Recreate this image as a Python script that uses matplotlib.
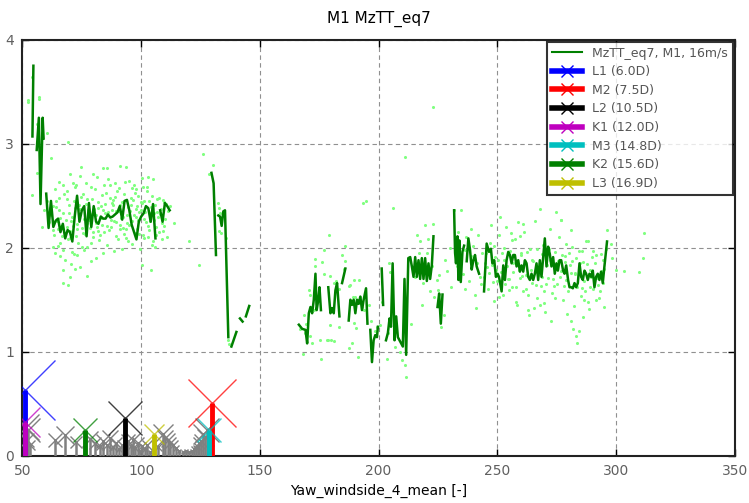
import numpy as np
import matplotlib
matplotlib.use('Agg')
import matplotlib.pyplot as plt
from matplotlib.lines import Line2D

nan = np.nan

# ---------------- binned mean line (NaN = gap) ----------------
line_x = [
    54.2, 54.6, nan,
    56.0, 56.9, 57.6, 58.5, 58.9, nan,
    60, 61, 62, 63, 64, 65, 66, 67, 68, 69, 70, 71, 72, 73, 74, 75, 76, 77, 78, 79,
    80, 81, 82, 83, 84, 85, 86, 87, 88, 89, 90, 91, 92, 93, 94, 95, 96, 97, 98, 99,
    100, 101, 102, 103, 104, 105, 106, nan,
    108, 109, 110, 111, 112, nan,
    129.6, 130.5, 131.5, nan,
    132.5, 133.2, 133.9, 134.6, 135.3, 136.7, nan,
    138.0, 140.1, nan,
    141.6, 142.7, nan,
    144.1, 145.5, nan,
    166.4, 167.8, 169.2, 169.9, 170.6, 171.3, 172.0, 172.7, 173.4, 173.9, 174.6, 175.1, 175.7, nan,
    178.8, 179.7, 180.4, 181.1, 181.8, 182.5, 183.5, nan,
    184.6, 186.0, nan,
    187.4, 188.1, 188.8, 189.5, 190.2, 190.9, 191.6, 192.3, 193.0, 193.7, 194.7, 195.3, nan,
    196.5, 197.2, 197.9, 198.6, 199.3, 199.7, nan,
    201.3, 201.9, nan,
    203.1, 203.9, 204.6, 205.2, 205.9, 206.7, 207.4, 208.1, 208.8, 209.5, 210.2, 210.9, 211.6,
    212.5, 213.3, 214.0, 214.7, 215.4, 216.1, 216.8, 217.5, 218.2, 218.9, 219.6, 220.3, 221.0,
    221.7, 222.4, 223.1, nan,
    224.8, 225.5, 226.2, 226.9, nan,
    231.8, 232.2, 232.6, 233.2, 233.6, 234.0, 234.6, 235.3, 236.0, nan,
    237.1, 237.8, 238.5, 239.2, 239.9, 240.6, 241.3, 242.3, nan,
    244.4, 245.5, 246.5, 247.3, 247.9, 248.7, 249.4, 250.1, 250.7, 251.8, 252.5, 253.2, 253.9,
    254.6, 255.3, 256.0, 256.7, 257.4, 258.1, 258.8, 259.5, 260.2, 260.9, 261.6, 262.3, 263.0,
    263.7, 264.4, 265.1, 265.8, 266.5, 267.2, 267.9, 268.6, 269.3, 270.0, 270.7, 271.4, 272.1,
    272.8, 273.5, 274.2, 274.9, 275.5, 276.2, 276.9, 277.7, 278.3, 279.0, 279.8, 280.4, 281.1,
    281.8, 282.5, 283.2, 283.9, 284.6, 285.3, 286.0, 286.7, 287.4, 288.1, 288.8, 289.5, 290.2,
    290.9, 291.6, 292.3, 293.0, 293.7, 294.4, 295.1, 296.2,
]
line_y = [
    3.07, 3.75, nan,
    2.94, 3.25, 2.42, 3.25, 3.05, nan,
    2.52, 2.19, 2.45, 2.20, 2.26, 2.28, 2.15, 2.23, 2.09, 2.17, 2.15, 2.06, 2.30, 2.50, 2.25, 2.36, 2.40, 2.11, 2.43, 2.20,
    2.40, 2.25, 2.23, 2.30, 2.28, 2.28, 2.32, 2.29, 2.30, 2.32, 2.34, 2.40, 2.27, 2.45, 2.46, 2.36, 2.22, 2.15, 2.08, 2.25,
    2.30, 2.33, 2.40, 2.38, 2.25, 2.42, 2.09, nan,
    2.36, 2.25, 2.43, 2.40, 2.36, nan,
    2.72, 2.62, 1.93, nan,
    2.31, 2.30, 2.21, 2.35, 2.36, 1.14, nan,
    1.05, 1.19, nan,
    1.32, 1.29, nan,
    1.34, 1.44, nan,
    1.26, 1.22, 1.21, 1.08, 1.37, 1.43, 1.37, 1.50, 1.75, 1.40, 1.50, 1.62, 1.40, nan,
    1.62, 1.37, 1.42, 1.37, 1.59, 1.66, 1.34, nan,
    1.66, 1.80, nan,
    1.30, 1.50, 1.45, 1.50, 1.37, 1.50, 1.46, 1.53, 1.40, 1.50, 1.61, 1.27, nan,
    1.21, 0.90, 1.11, 1.16, 1.14, 1.24, nan,
    1.80, 1.45, nan,
    1.11, 1.18, 1.32, 1.24, 1.85, 1.11, 1.34, 1.14, 1.11, 1.08, 1.05, 1.70, 0.97,
    1.90, 1.91, 1.82, 1.72, 1.91, 1.72, 1.88, 1.70, 1.90, 1.70, 1.90, 1.68, 1.85,
    1.70, 1.83, 2.11, nan,
    1.43, 1.56, 1.27, 1.55, nan,
    2.36, 1.95, 1.85, 2.11, 1.69, 2.07, 1.67, 1.96, 2.02, nan,
    1.87, 2.09, 1.98, 1.79, 1.88, 1.93, 1.82, 1.75, nan,
    1.58, 2.04, 1.96, 1.99, 1.85, 1.88, 1.72, 1.75, 1.72, 1.58, 1.83, 1.69, 1.88,
    1.96, 1.93, 1.85, 1.93, 1.93, 1.82, 1.88, 1.77, 1.83, 1.77, 1.88, 1.85, 1.72,
    1.69, 1.75, 1.69, 1.75, 1.85, 1.69, 1.88, 1.72, 1.91, 2.09, 1.82, 2.01, 1.94,
    1.82, 1.91, 1.75, 1.85, 1.78, 1.88, 1.88, 1.78, 1.75, 1.83, 1.69, 1.62, 1.62,
    1.61, 1.66, 1.62, 1.66, 1.85, 1.72, 1.69, 1.78, 1.75, 1.69, 1.75, 1.72, 1.78,
    1.62, 1.72, 1.75, 1.69, 1.77, 1.66, 1.82, 2.06,
]

# ---------------- raw samples (scatter) ----------------
scat1_x = [
    62.1, 63.4, 64.0, 64.8, 65.5, 66.2, 66.9, 67.5, 68.3, 69.0,
    69.6, 70.2, 70.9, 71.5, 72.3, 72.8, 73.4, 74.1, 74.7, 75.3,
    75.9, 76.6, 77.2, 77.8, 78.5, 79.1, 79.8, 80.4, 81.0, 81.7,
    82.3, 82.9, 83.6, 84.2, 84.8, 85.5, 86.1, 86.7, 87.4, 88.0,
    88.6, 89.3, 89.9, 90.5, 91.2, 91.8, 92.4, 93.1, 93.7, 94.3,
    95.0, 95.6, 96.2, 96.9, 97.5, 98.1, 98.8, 99.4, 100.0, 100.7,
    101.3, 101.9, 102.6, 103.2, 103.8, 104.5, 105.1, 105.7, 106.4, 107.0,
    107.6, 108.3, 108.9, 109.5, 110.2, 110.8, 111.5, 112.1, 61.0, 60.2,
    63.0, 65.1, 67.2, 68.8, 70.5, 72.0, 73.9, 75.0, 76.8, 78.2,
    79.5, 80.9, 82.0, 83.3, 85.0, 86.4, 87.9, 89.0, 90.2, 91.5,
    92.9, 94.0, 95.3, 96.6, 97.9, 99.1, 100.3, 101.6, 102.9, 104.0,
    105.4, 106.8, 108.0, 109.2, 110.5, 64.4, 66.6, 71.2, 74.4, 77.5,
    81.3, 84.6, 87.1, 90.9, 93.4, 96.0, 98.5, 101.0, 103.5, 106.1,
    60.4, 62.2, 54.1, 56.2, 69.2, 74.8, 79.7, 81.6, 83.9, 85.6,
    90.9, 93.7, 69.9, 74.1, 67.1, 102.8, 104.9, 100.2, 109.1, 114.0,
    66.9, 67.1, 69.2, 69.9, 70.6, 72.0, 74.1, 77.0, 79.0, 81.1,
    63.6, 62.9, 65.8, 68.0, 71.0, 73.0, 76.0, 84.0, 88.5, 92.0,
    104.2, 100.5, 108.7, 106.0, 97.0, 94.8, 86.0, 78.8, 59.0, 58.3,
    52.4, 52.2, 54.1, 57.0, 57.1, 56.2, 65.5, 72.6, 88.8, 98.0,
    62.7, 64.3, 65.9, 67.8, 69.4, 71.8, 73.1, 75.6, 77.0, 78.9,
    80.1, 81.9, 83.0, 84.4, 85.8, 87.6, 89.6, 90.7, 92.2, 93.9,
    95.5, 97.2, 98.3, 99.8, 101.1, 102.3, 103.9, 105.6, 107.3, 109.8,
    66.0, 68.6, 70.0, 71.3, 74.9, 76.3, 79.3, 82.6, 86.9, 91.0,
    94.6, 97.7, 100.9, 104.7, 106.6, 63.8, 72.4, 77.3, 88.2, 96.3,
    61.5, 65.3, 68.9, 73.6, 78.0, 83.8, 89.4, 92.6, 99.0, 103.0,
]
scat1_y = [
    2.31, 2.12, 2.45, 2.02, 2.36, 2.21, 1.98, 2.52, 2.27, 2.08,
    2.41, 2.16, 2.30, 1.94, 2.58, 2.23, 2.05, 2.37, 2.49, 2.14,
    2.28, 2.62, 2.01, 2.33, 2.19, 2.47, 2.10, 2.56, 2.24, 2.38,
    2.07, 2.29, 2.51, 2.15, 2.42, 2.03, 2.34, 2.60, 2.20, 2.46,
    2.26, 2.11, 2.55, 2.35, 2.18, 2.44, 2.30, 2.63, 2.09, 2.39,
    2.22, 2.48, 2.04, 2.31, 2.14, 2.40, 2.27, 1.99, 2.36, 2.12,
    2.45, 2.25, 2.58, 2.17, 2.33, 2.50, 2.06, 2.41, 2.20, 2.30,
    2.15, 2.37, 2.24, 2.44, 2.28, 2.10, 2.35, 2.40, 2.25, 2.45,
    2.40, 2.18, 2.33, 2.47, 2.26, 2.38, 2.29, 2.19, 2.42, 2.27,
    2.15, 2.31, 2.44, 2.22, 2.53, 2.17, 2.36, 2.49, 2.08, 2.29,
    2.52, 2.24, 2.35, 2.46, 2.30, 2.13, 2.43, 2.34, 2.21, 2.39,
    2.27, 2.47, 2.32, 2.16, 2.42, 2.26, 2.11, 2.21, 2.32, 2.36,
    2.20, 2.33, 2.27, 2.41, 2.18, 2.26, 2.50, 2.28, 2.45, 2.12,
    3.10, 2.86, 2.51, 2.72, 3.02, 2.78, 2.71, 2.68, 2.77, 2.77,
    2.79, 2.78, 2.71, 2.69, 2.60, 2.68, 2.66, 2.67, 2.46, 2.24,
    1.79, 1.66, 1.64, 1.72, 1.84, 1.80, 1.81, 1.73, 1.87, 1.90,
    1.95, 2.01, 1.92, 1.88, 1.96, 1.93, 1.98, 1.95, 1.97, 1.99,
    1.79, 1.83, 2.08, 2.01, 2.60, 2.64, 2.66, 2.58, 2.36, 2.20,
    3.42, 3.40, 3.64, 3.45, 3.43, 3.19, 2.63, 2.60, 2.62, 2.56,
    2.17, 2.39, 2.29, 2.14, 2.33, 2.45, 2.18, 2.52, 2.24, 2.05,
    2.37, 2.16, 2.40, 2.60, 2.21, 2.43, 2.35, 2.57, 2.19, 2.31,
    2.41, 2.53, 2.18, 2.44, 2.09, 2.55, 2.26, 2.33, 2.48, 2.21,
    2.05, 2.55, 2.09, 2.62, 2.01, 2.13, 2.32, 2.12, 2.48, 2.22,
    2.06, 2.37, 2.58, 2.03, 2.34, 2.56, 2.11, 2.47, 2.41, 2.57,
    2.38, 2.48, 2.20, 2.41, 2.30, 2.36, 2.25, 2.13, 2.34, 2.10,
]
scat2_x = [126.2, 130.4, 128.4, 120.0, 124.5, 132.5, 132.8, 133.3, 132.6, 133.6, 135.7, 136.7, 136.9]
scat2_y = [2.90, 2.80, 2.71, 2.06, 1.83, 2.43, 2.38, 2.33, 2.16, 2.14, 2.09, 1.11, 1.07]
scat3_x = [
    179.2, 176.9, 186.0, 184.6, 173.4, 173.4, 176.2, 177.2, 179.7, 181.1,
    182.0, 183.5, 186.0, 187.4, 188.0, 189.8, 191.6, 192.3, 168.5, 169.2,
    171.3, 172.0, 168.1, 175.8, 178.3, 179.8, 181.1, 187.4, 188.8, 191.3,
    189.5, 190.5, 193.4, 194.7, 193.0, 194.0, 189.0, 190.2, 191.5, 170.6,
    171.0, 169.5, 175.5, 178.8, 179.7, 183.2, 199.3, 200.7, 204.2, 204.9,
    203.9, 203.5, 207.0, 209.1, 209.8, 211.2, 211.5, 213.7, 215.4, 216.1,
    216.8, 206.0, 211.2, 197.0, 198.5, 201.5, 185.5, 172.8, 167.0, 196.0,
]
scat3_y = [
    2.12, 1.98, 2.02, 1.93, 1.89, 1.82, 1.86, 1.75, 1.73, 1.66,
    1.68, 1.60, 1.87, 1.63, 1.64, 1.69, 1.69, 1.53, 1.35, 1.18,
    1.15, 1.08, 0.98, 0.93, 1.11, 1.11, 1.10, 1.04, 1.08, 0.95,
    1.28, 1.23, 2.43, 2.45, 1.43, 1.40, 1.53, 1.53, 1.50, 1.59,
    1.55, 1.27, 1.11, 1.11, 1.26, 1.24, 1.24, 1.26, 1.85, 1.77,
    1.18, 0.93, 1.05, 1.00, 0.92, 0.87, 0.76, 1.27, 1.72, 2.12,
    1.95, 2.38, 2.87, 1.30, 1.20, 1.48, 1.80, 1.40, 1.22, 1.45,
]
scat4_x = [
    217.5, 218.2, 218.9, 219.6, 220.3, 221.0, 221.7, 222.4, 223.1, 223.5,
    224.5, 225.2, 225.5, 226.2, 226.3, 227.5, 229.0, 230.5, 231.8, 232.5,
    233.4, 234.7, 235.6, 236.3, 237.0, 238.2, 239.0, 239.8, 240.5, 241.3,
    242.0, 242.8, 243.5, 228.0, 230.0, 236.5, 238.7, 241.0, 243.0, 233.0,
    222.7,
]
scat4_y = [
    2.06, 1.45, 1.66, 2.22, 1.95, 2.08, 1.58, 1.82, 2.23, 1.53,
    1.69, 1.59, 1.74, 1.24, 1.45, 1.35, 1.78, 1.62, 2.36, 1.90,
    2.15, 2.36, 1.75, 1.98, 2.10, 1.68, 1.92, 2.02, 1.55, 1.85,
    2.12, 1.72, 1.95, 1.88, 2.00, 1.60, 2.18, 1.42, 1.65, 1.82,
    3.35,
]
scat5_x = [
    244.5, 245.3, 246.1, 246.8, 247.6, 248.4, 249.1, 249.9, 250.7, 251.4,
    252.2, 253.0, 253.7, 254.5, 255.3, 256.0, 256.8, 257.6, 258.3, 259.1,
    259.9, 260.6, 261.4, 262.2, 262.9, 263.7, 264.5, 265.2, 266.0, 266.8,
    267.5, 268.3, 269.1, 269.8, 270.6, 271.4, 272.1, 272.9, 273.7, 274.4,
    275.2, 276.0, 276.7, 277.5, 278.3, 279.0, 279.8, 280.6, 281.3, 282.1,
    282.9, 283.6, 284.4, 285.2, 285.9, 286.7, 287.5, 288.2, 289.0, 289.8,
    290.5, 291.3, 292.1, 292.8, 293.6, 294.4, 295.1, 295.9, 245.8, 248.0,
    250.2, 252.6, 254.9, 257.1, 259.4, 261.8, 264.0, 266.3, 268.7, 271.0,
    273.3, 275.6, 277.9, 280.2, 282.5, 284.8, 287.1, 289.4, 291.7, 294.0,
    247.2, 251.0, 255.7, 258.7, 261.0, 263.3, 265.6, 267.9, 270.2, 272.5,
    274.8, 277.0, 279.4, 281.0, 282.0, 283.0, 283.6, 284.6, 286.2, 288.5,
    276.9, 281.1, 288.1, 296.2, 297.9, 298.4, 300.0, 303.5, 309.8, 311.6,
    311.2, 294.9, 291.6, 260.0, 256.5, 253.3, 249.5, 269.0, 278.6, 285.8,
    245.0, 246.5, 248.8, 251.8, 254.0, 256.2, 258.0, 260.4, 262.6, 264.8,
    267.1, 269.5, 271.7, 273.9, 276.3, 278.8, 280.9, 283.3, 285.5, 287.8,
    290.1, 292.4, 294.7, 250.5, 255.0, 259.7, 263.0, 266.6, 270.4, 274.1,
    277.2, 281.6, 286.4, 289.2, 293.2, 252.8, 257.9, 262.0, 268.0, 272.0,
]
scat5_y = [
    1.72, 1.95, 1.60, 2.05, 1.83, 1.49, 1.91, 1.68, 2.12, 1.77,
    1.55, 1.88, 2.20, 1.70, 1.97, 1.62, 1.85, 2.08, 1.45, 1.79,
    1.93, 1.58, 2.15, 1.74, 1.40, 1.99, 1.66, 1.87, 2.26, 1.52,
    1.81, 1.63, 2.03, 1.47, 1.90, 1.71, 2.18, 1.56, 1.84, 1.96,
    1.65, 2.10, 1.78, 1.50, 1.92, 1.69, 1.58, 1.83, 2.01, 1.44,
    1.75, 1.62, 1.97, 1.54, 1.86, 1.68, 2.06, 1.48, 1.79, 1.91,
    1.60, 1.85, 1.71, 1.52, 1.94, 1.66, 1.80, 1.99, 1.81, 1.67,
    1.88, 1.74, 1.59, 1.92, 1.71, 1.86, 1.79, 1.64, 1.94, 1.83,
    1.70, 1.87, 1.63, 1.95, 1.76, 1.85, 1.58, 1.72, 1.93, 1.78,
    2.22, 2.30, 2.14, 2.25, 2.23, 1.35, 1.42, 2.37, 1.38, 1.30,
    2.34, 2.27, 1.36, 1.30, 1.22, 1.15, 1.08, 1.20, 1.33, 1.41,
    2.27, 2.17, 2.06, 2.17, 2.04, 1.90, 1.79, 1.78, 1.77, 2.14,
    1.90, 1.43, 1.50, 1.95, 1.77, 1.65, 1.79, 1.72, 1.86, 1.97,
    1.85, 1.76, 2.02, 1.95, 1.82, 2.07, 1.62, 1.73, 1.96, 1.88,
    1.74, 1.58, 1.99, 1.63, 1.72, 2.04, 1.76, 1.90, 1.61, 1.84,
    1.97, 1.64, 1.88, 1.53, 1.70, 2.11, 1.55, 1.99, 1.65, 1.52,
    1.93, 1.87, 1.50, 1.62, 1.58, 2.00, 1.48, 1.60, 1.45, 1.88,
]

# ---------------- wake directions ----------------
wake_labels = ['L1 (6.0D)', 'M2 (7.5D)', 'L2 (10.5D)', 'K1 (12.0D)',
               'M3 (14.8D)', 'K2 (15.6D)', 'L3 (16.9D)']
wake_x = [51.0, 129.8, 93.0, 50.9, 128.4, 76.4, 105.3]
wake_h = [0.63, 0.51, 0.36, 0.32, 0.25, 0.25, 0.21]
wake_colors = ['b', 'r', 'k', 'm', 'c', 'g', 'y']

other_x = [51.5, 52.4, 51.7, 53.0, 63.6, 67.8, 72.7, 78.5, 80.5, 82.5,
           84.0, 85.5, 87.0, 88.3, 89.5, 90.8, 91.8, 94.5, 95.5, 96.5,
           97.5, 98.6, 99.5, 100.5, 101.5, 102.5, 103.8, 107.0, 109.1, 110.2,
           111.2, 112.3, 113.3, 114.5, 116.1, 117.5, 118.9, 120.0, 121.2, 122.2,
           123.1, 124.0, 124.5, 125.2, 125.9, 126.8, 127.6]
other_h = [0.28, 0.25, 0.15, 0.10, 0.15, 0.20, 0.13, 0.16, 0.12, 0.09,
           0.14, 0.10, 0.17, 0.08, 0.12, 0.06, 0.10, 0.14, 0.09, 0.15,
           0.07, 0.12, 0.05, 0.09, 0.06, 0.10, 0.04, 0.08, 0.21, 0.17,
           0.15, 0.12, 0.10, 0.07, 0.05, 0.04, 0.05, 0.04, 0.05, 0.06,
           0.07, 0.08, 0.12, 0.14, 0.21, 0.18, 0.25]

# ---------------- plot ----------------
fig = plt.figure(figsize=(7.49, 5.03), dpi=100)
ax = fig.add_axes([0.030, 0.094, 0.951, 0.827])

scat_color = '#80ff80'
for sx, sy in [(scat1_x, scat1_y), (scat2_x, scat2_y), (scat3_x, scat3_y),
               (scat4_x, scat4_y), (scat5_x, scat5_y)]:
    ax.scatter(sx, sy, s=5, color=scat_color, linewidths=0, zorder=2)

ax.plot(line_x, line_y, color='green', lw=1.8, zorder=3)

# other turbines (grey)
msk = 68.0
for x, h in zip(other_x, other_h):
    ax.plot([x, x], [0, h], color='#808080', lw=1.8, zorder=4,
            solid_capstyle='butt')
    ax.plot([x], [h], marker='x', ms=msk * h, mew=1.0, color='#808080',
            linestyle='none', zorder=4)

# wake lines
for x, h, c in zip(wake_x, wake_h, wake_colors):
    ax.plot([x, x], [0, h], color=c, lw=3.5, zorder=5, solid_capstyle='butt')
    ax.plot([x], [h], marker='x', ms=msk * h, mew=1.0, color=c,
            linestyle='none', zorder=5, alpha=0.75)

ax.set_xlim(50, 350)
ax.set_ylim(0, 4)
ax.set_xticks([50, 100, 150, 200, 250, 300, 350])
ax.set_yticks([0, 1, 2, 3, 4])
ax.grid(True, linestyle=(0, (4, 3)), color='#909090', lw=0.8)
ax.set_axisbelow(True)
for sp in ax.spines.values():
    sp.set_linewidth(1.5)
    sp.set_color('#222222')
ax.tick_params(direction='in', top=True, right=True, length=5, width=1,
               labelsize=10, labelcolor='#606060', pad=6)

ax.set_title('M1 MzTT_eq7', fontsize=11, pad=12)
ax.set_xlabel('Yaw_windside_4_mean [-]', fontsize=10, labelpad=4)

handles = [Line2D([0], [0], color='green', lw=1.5)]
labels = ['MzTT_eq7, M1, 16m/s']
for lab, c in zip(wake_labels, wake_colors):
    handles.append(Line2D([0], [0], color=c, lw=4, marker='x', ms=9, mew=1.0))
    labels.append(lab)
leg = ax.legend(handles, labels, loc='upper right', fontsize=9,
                frameon=True, fancybox=False, borderaxespad=0.15,
                handlelength=2.4, labelspacing=0.45, labelcolor='#555555')
leg.get_frame().set_edgecolor('black')
leg.get_frame().set_linewidth(1.5)
leg.set_zorder(10)

fig.savefig('out.png', dpi=100)
